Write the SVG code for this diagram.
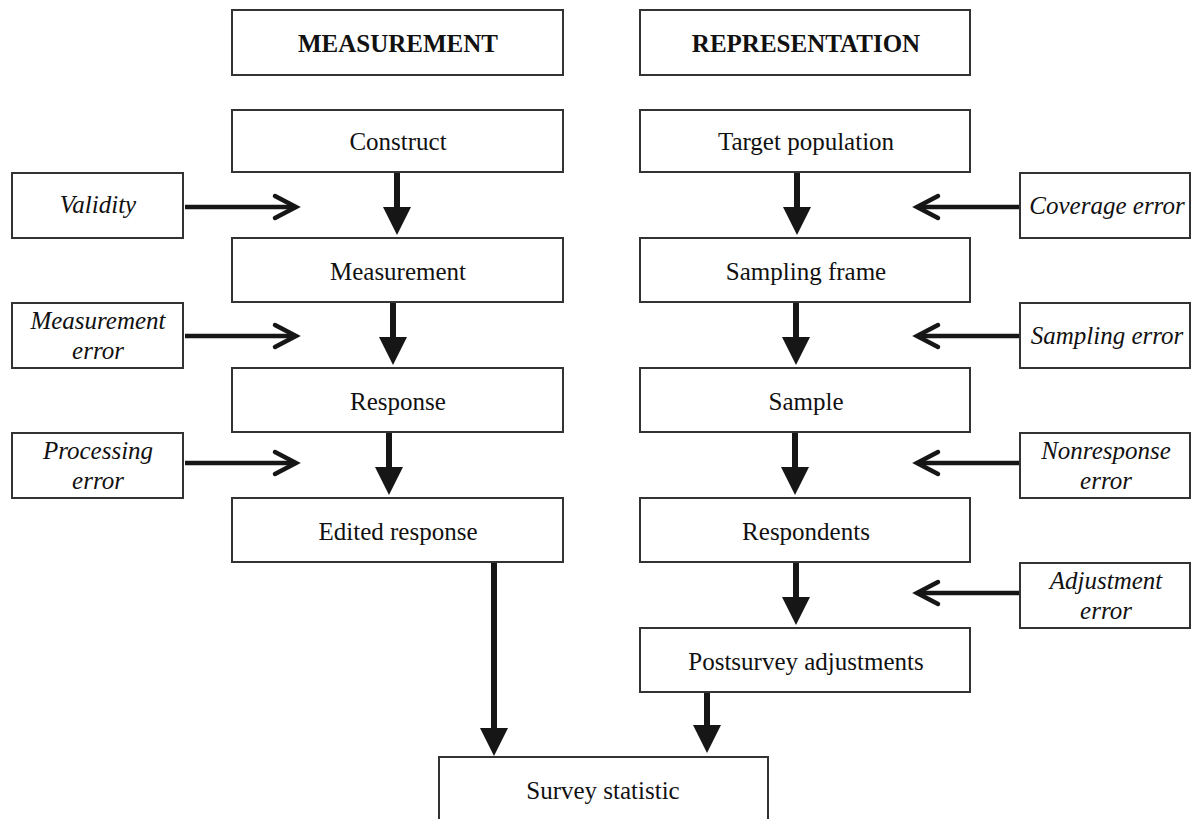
<svg xmlns="http://www.w3.org/2000/svg" width="1192" height="819" viewBox="0 0 1192 819">
  <style>
    .box { fill: #fff; stroke: #333; stroke-width: 2; }
    .t { font-family: "Liberation Serif", "Times New Roman", serif; font-size: 25px; fill: #111; text-anchor: middle; }
    .title { font-weight: bold; font-size: 25px; }
    .err { font-style: italic; }
    .shaft { stroke: #161616; stroke-width: 6; fill: none; }
    .side { stroke: #161616; stroke-width: 4.5; fill: none; }
    .chev { stroke: #161616; stroke-width: 4.5; fill: none; stroke-linecap: round; stroke-linejoin: miter; }
    .head { fill: #161616; }
  </style>

  <rect width="1192" height="819" fill="#fff"/>

  <!-- connectors -->
  <g id="connectors">
    <!-- measurement column -->
    <line class="shaft" x1="397" y1="172" x2="397" y2="210"/>
    <polygon class="head" points="383,207 411,207 397,235"/>
    <line class="shaft" x1="393" y1="302" x2="393" y2="340"/>
    <polygon class="head" points="379,337 407,337 393,365"/>
    <line class="shaft" x1="389" y1="432" x2="389" y2="470"/>
    <polygon class="head" points="375,467 403,467 389,495"/>
    <line class="shaft" x1="494" y1="563" x2="494" y2="731"/>
    <polygon class="head" points="480,728 508,728 494,756"/>

    <!-- representation column -->
    <line class="shaft" x1="797" y1="172" x2="797" y2="210"/>
    <polygon class="head" points="783,207 811,207 797,235"/>
    <line class="shaft" x1="796" y1="302" x2="796" y2="340"/>
    <polygon class="head" points="782,337 810,337 796,365"/>
    <line class="shaft" x1="795" y1="432" x2="795" y2="470"/>
    <polygon class="head" points="781,467 809,467 795,495"/>
    <line class="shaft" x1="796" y1="563" x2="796" y2="600"/>
    <polygon class="head" points="782,597 810,597 796,625"/>
    <line class="shaft" x1="707" y1="693" x2="707" y2="728"/>
    <polygon class="head" points="693,725 721,725 707,753"/>

    <!-- error inputs, left -->
    <line class="side" x1="185" y1="207" x2="295" y2="207"/>
    <polyline class="chev" points="275,196 296,207 275,218"/>
    <line class="side" x1="185" y1="336" x2="295" y2="336"/>
    <polyline class="chev" points="275,325 296,336 275,347"/>
    <line class="side" x1="185" y1="463" x2="295" y2="463"/>
    <polyline class="chev" points="275,452 296,463 275,474"/>

    <!-- error inputs, right -->
    <line class="side" x1="1019" y1="207" x2="918" y2="207"/>
    <polyline class="chev" points="938,196 917,207 938,218"/>
    <line class="side" x1="1019" y1="336" x2="918" y2="336"/>
    <polyline class="chev" points="938,325 917,336 938,347"/>
    <line class="side" x1="1019" y1="463" x2="918" y2="463"/>
    <polyline class="chev" points="938,452 917,463 938,474"/>
    <line class="side" x1="1019" y1="593" x2="918" y2="593"/>
    <polyline class="chev" points="938,582 917,593 938,604"/>
  </g>

  <!-- headers -->
  <g id="hdr-measurement">
    <rect class="box" x="232" y="10" width="331" height="65"/>
    <text class="t title" x="398" y="52">MEASUREMENT</text>
  </g>
  <g id="hdr-representation">
    <rect class="box" x="640" y="10" width="330" height="65"/>
    <text class="t title" x="806" y="52">REPRESENTATION</text>
  </g>

  <!-- measurement column -->
  <g id="construct">
    <rect class="box" x="232" y="110" width="331" height="62"/>
    <text class="t" x="398" y="150">Construct</text>
  </g>
  <g id="measurement">
    <rect class="box" x="232" y="238" width="331" height="64"/>
    <text class="t" x="398" y="280">Measurement</text>
  </g>
  <g id="response">
    <rect class="box" x="232" y="368" width="331" height="64"/>
    <text class="t" x="398" y="410">Response</text>
  </g>
  <g id="edited-response">
    <rect class="box" x="232" y="498" width="331" height="64"/>
    <text class="t" x="398" y="540">Edited response</text>
  </g>

  <!-- representation column -->
  <g id="target-population">
    <rect class="box" x="640" y="110" width="330" height="62"/>
    <text class="t" x="806" y="150">Target population</text>
  </g>
  <g id="sampling-frame">
    <rect class="box" x="640" y="238" width="330" height="64"/>
    <text class="t" x="806" y="280">Sampling frame</text>
  </g>
  <g id="sample">
    <rect class="box" x="640" y="368" width="330" height="64"/>
    <text class="t" x="806" y="410">Sample</text>
  </g>
  <g id="respondents">
    <rect class="box" x="640" y="498" width="330" height="64"/>
    <text class="t" x="806" y="540">Respondents</text>
  </g>
  <g id="postsurvey-adjustments">
    <rect class="box" x="640" y="628" width="330" height="64"/>
    <text class="t" x="806" y="670">Postsurvey adjustments</text>
  </g>

  <g id="survey-statistic">
    <rect class="box" x="439" y="757" width="329" height="70"/>
    <text class="t" x="603" y="799">Survey statistic</text>
  </g>

  <!-- error sources, left -->
  <g id="validity">
    <rect class="box" x="12" y="173" width="171" height="65"/>
    <text class="t err" x="98" y="213">Validity</text>
  </g>
  <g id="measurement-error">
    <rect class="box" x="12" y="303" width="171" height="65"/>
    <text class="t err" x="98" y="329">Measurement</text>
    <text class="t err" x="98" y="359">error</text>
  </g>
  <g id="processing-error">
    <rect class="box" x="12" y="433" width="171" height="65"/>
    <text class="t err" x="98" y="459">Processing</text>
    <text class="t err" x="98" y="489">error</text>
  </g>

  <!-- error sources, right -->
  <g id="coverage-error">
    <rect class="box" x="1020" y="173" width="170" height="65"/>
    <text class="t err" x="1107" y="214">Coverage error</text>
  </g>
  <g id="sampling-error">
    <rect class="box" x="1020" y="303" width="170" height="65"/>
    <text class="t err" x="1107" y="344">Sampling error</text>
  </g>
  <g id="nonresponse-error">
    <rect class="box" x="1020" y="433" width="170" height="65"/>
    <text class="t err" x="1106" y="459">Nonresponse</text>
    <text class="t err" x="1106" y="489">error</text>
  </g>
  <g id="adjustment-error">
    <rect class="box" x="1020" y="563" width="170" height="65"/>
    <text class="t err" x="1106" y="589">Adjustment</text>
    <text class="t err" x="1106" y="619">error</text>
  </g>
</svg>
